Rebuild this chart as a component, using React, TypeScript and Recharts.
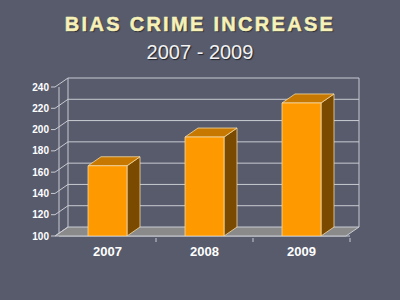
import { BarChart, Bar, XAxis, YAxis } from 'recharts';

const years = ['2007', '2008', '2009'];
const crimes = [166, 193, 225];
const yTicks = [100, 120, 140, 160, 180, 200, 220, 240];

const data = years.map((year, i) => ({ year, crimes: crimes[i] }));

// chart geometry
const W = 400;
const H = 300;
const M = { top: 87, right: 50, bottom: 34, left: 19 };
const Y_AXIS_W = 40;
const X_AXIS_H = 30;
const PLOT_W = W - M.left - M.right - Y_AXIS_W;
const PLOT_H = H - M.top - M.bottom - X_AXIS_H;
const DX = 13; // depth offset
const DY = 9;

const wallLine = '#c9cbd2';
const floorFill = '#8a8a8a';
const font = 'Liberation Sans, Arial, sans-serif';

// Y tick: label + small tick, diagonal to the back wall and the back gridline
function YTick(props: any) {
  const { x, y, payload } = props;
  const axisX = x + 4;
  const v = payload.value;
  return (
    <g>
      {v === 100 && (
        <polygon
          points={`${axisX},${y} ${axisX + PLOT_W},${y} ${axisX + PLOT_W + DX},${y - DY} ${axisX + DX},${y - DY}`}
          fill={floorFill}
          stroke={wallLine}
          strokeWidth={1}
        />
      )}
      {v === 240 && (
        <g stroke={wallLine} strokeWidth={1}>
          <line x1={axisX + DX} y1={y - DY} x2={axisX + DX} y2={y - DY + PLOT_H} />
          <line x1={axisX + PLOT_W + DX} y1={y - DY} x2={axisX + PLOT_W + DX} y2={y - DY + PLOT_H} />
        </g>
      )}
      <line x1={axisX} y1={y} x2={axisX + DX} y2={y - DY} stroke={wallLine} strokeWidth={1} />
      {v !== 100 && (
        <line x1={axisX + DX} y1={y - DY} x2={axisX + PLOT_W + DX} y2={y - DY} stroke={wallLine} strokeWidth={1} />
      )}
      <line x1={axisX - 4} y1={y} x2={axisX} y2={y} stroke={wallLine} strokeWidth={1} />
      <text x={axisX - 6} y={y} dy={3.5} textAnchor="end" fill="#ffffff" fontSize={10} fontWeight="bold" fontFamily={font}>
        {v}
      </text>
    </g>
  );
}

function XTick(props: any) {
  const { x, y, payload } = props;
  const band = PLOT_W / years.length;
  return (
    <g>
      <line x1={x + band / 2} y1={y} x2={x + band / 2} y2={y + 4} stroke={wallLine} strokeWidth={1} />
      <text x={x} y={y + 18} textAnchor="middle" fill="#ffffff" fontSize={13} fontWeight="bold" fontFamily={font}>
        {payload.value}
      </text>
    </g>
  );
}

// 3D column: front face, top face and side face
function Column(props: any) {
  const { x, y, width, height } = props;
  const r = x + width;
  const b = y + height;
  const edge = '#f3d9a6';
  return (
    <g strokeWidth={0.8} stroke={edge} strokeLinejoin="round">
      <polygon points={`${r},${y} ${r + DX},${y - DY} ${r + DX},${b - DY} ${r},${b}`} fill="#7a4a00" />
      <polygon points={`${x},${y} ${x + DX},${y - DY} ${r + DX},${y - DY} ${r},${y}`} fill="#c77800" />
      <rect x={x} y={y} width={width} height={height} fill="#ff9900" />
    </g>
  );
}

export default function App() {
  const layer = { position: 'absolute' as const, left: 0, top: 0 };
  return (
    <div
      style={{
        position: 'absolute',
        left: 0,
        top: 0,
        width: W,
        height: H,
        background: '#575b6c',
        fontFamily: font,
      }}
    >
      {/* Title */}
      <div
        style={{
          position: 'absolute',
          top: 12,
          width: W,
          textAlign: 'center',
          fontSize: 20,
          fontWeight: 900,
          letterSpacing: 2.3,
          color: '#f6f1b9',
          WebkitTextStroke: '0.5px #f6f1b9',
          textShadow: '1px 1px 1px #22242c',
          lineHeight: '24px',
        }}
      >
        BIAS CRIME INCREASE
      </div>
      <div
        style={{
          position: 'absolute',
          top: 40,
          width: W,
          textAlign: 'center',
          fontSize: 20,
          color: '#f2f2f2',
          textShadow: '1px 1px 1px #22242c',
          lineHeight: '24px',
        }}
      >
        2007 - 2009
      </div>

      {/* walls, floor and axes */}
      <div style={layer}>
        <BarChart width={W} height={H} data={data} margin={M} barSize={39}>
          <YAxis
            domain={[100, 240]}
            ticks={yTicks}
            interval={0}
            width={Y_AXIS_W}
            tickLine={false}
            tick={<YTick />}
            axisLine={{ stroke: wallLine, strokeWidth: 1 }}
            allowDataOverflow
          />
          <XAxis
            dataKey="year"
            height={X_AXIS_H}
            tickLine={false}
            tickSize={0}
            tick={<XTick />}
            axisLine={{ stroke: wallLine, strokeWidth: 1 }}
          />
        </BarChart>
      </div>

      {/* columns on top of the floor */}
      <div style={layer}>
        <BarChart
          width={W}
          height={H}
          data={data}
          barSize={39}
          margin={{ top: M.top, right: M.right, bottom: M.bottom + X_AXIS_H, left: M.left + Y_AXIS_W }}
        >
          <YAxis hide domain={[100, 240]} allowDataOverflow />
          <XAxis hide dataKey="year" />
          <Bar dataKey="crimes" shape={<Column />} isAnimationActive={false} />
        </BarChart>
      </div>
    </div>
  );
}
